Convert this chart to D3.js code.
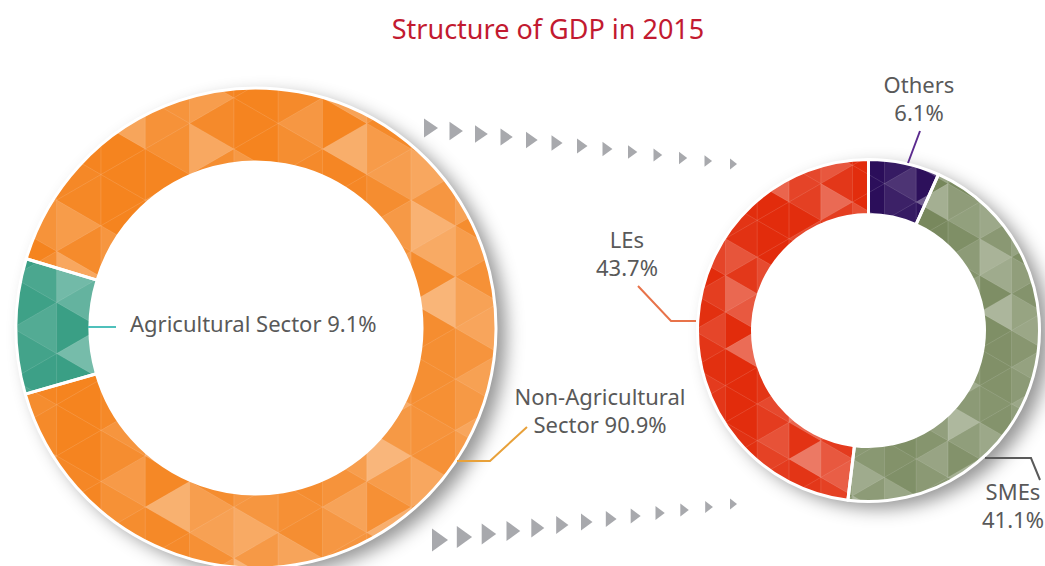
<!DOCTYPE html>
<html lang="en">
<head>
    <meta charset="UTF-8">
    <title>Structure of GDP in 2015</title>
    <script src="https://cdn.jsdelivr.net/npm/d3@7"></script>
    <style>
        html, body { margin: 0; padding: 0; background: #fff; }
        svg { display: block; font-family: "Noto Sans", "Open Sans", sans-serif; }
    </style>
</head>
<body>
    <svg id="chart" width="1045" height="566"></svg>

    <script>
    "use strict";

    // data
    var chartTitle = "Structure of GDP in 2015";
    var sectorNames = ["Agricultural Sector", "Non-Agricultural Sector"];
    var sectorValues = [9.1, 90.9];
    var sectorColors = ["#3a9f85", "#f5841f"];
    var segmentNames = ["Others", "SMEs", "LEs"];
    var segmentValues = [6.1, 41.1, 43.7];
    var segmentColors = ["#2b0e5a", "#75865a", "#e22c0c"];

    // texture levels for the triangle mosaic (white overlay opacity)
    var shadeLevels = [0.0, 0.12, 0.05, 0.22, 0.0, 0.3, 0.08, 0.16, 0.0, 0.4, 0.1, 0.2, 0.03];

    var svg = d3.select("#chart");
    var defs = svg.append("defs");

    var shadow = defs.append("filter").attr("id", "shadow")
        .attr("x", "-20%").attr("y", "-20%").attr("width", "150%").attr("height", "150%");
    shadow.append("feDropShadow")
        .attr("dx", 10).attr("dy", 7).attr("stdDeviation", 9)
        .attr("flood-color", "#000").attr("flood-opacity", 0.42);

    svg.append("text")
        .attr("x", 548).attr("y", 39)
        .attr("text-anchor", "middle")
        .attr("font-size", 27)
        .attr("fill", "#c21a30")
        .text(chartTitle);

    var donuts = [
        { id: "sector", names: sectorNames, values: sectorValues, colors: sectorColors,
          cx: 256, cy: 328, r0: 166, r1: 240, start: 254, cell: 44.3 },
        { id: "segment", names: segmentNames, values: segmentValues, colors: segmentColors,
          cx: 868.5, cy: 330.5, r0: 116, r1: 171, start: 0, cell: 31.8 }
    ];

    var rad = Math.PI / 180;

    donuts.forEach(function (dn) {
        var g = svg.append("g").attr("transform", "translate(" + dn.cx + "," + dn.cy + ")");

        var pie = d3.pie().sort(null)
            .startAngle(dn.start * rad)
            .endAngle(dn.start * rad + 2 * Math.PI);
        var arcs = pie(dn.values);
        var arc = d3.arc().innerRadius(dn.r0).outerRadius(dn.r1);

        // shadow disc
        g.append("circle").attr("r", dn.r1).attr("fill", "#fff").attr("filter", "url(#shadow)");

        g.selectAll("path.slice").data(arcs).enter().append("path")
            .attr("class", "slice")
            .attr("d", arc)
            .attr("fill", function (d, i) { return dn.colors[i]; });

        // ring clip for mosaic
        defs.append("clipPath").attr("id", "ring-" + dn.id)
            .append("path")
            .attr("d", arc({ startAngle: 0, endAngle: 2 * Math.PI }));

        var w = dn.cell, s = 2 * w / Math.sqrt(3);
        var tris = [];
        var nc = Math.ceil(dn.r1 / w) + 1;
        for (var c = -nc; c < nc; c++) {
            var xl = (c + 0.5) * w, xr = xl + w;
            var oc = (((c % 2) + 2) % 2) * s / 2;
            var oc2 = oc === 0 ? s / 2 : 0;
            for (var r = -nc - 2; r < nc + 2; r++) {
                var ya = oc + r * s, yb = oc2 + r * s;
                tris.push({ c: c, r: r, k: 0, pts: [[xl, ya], [xl, ya + s], [xr, ya + s / 2]] });
                tris.push({ c: c, r: r, k: 1, pts: [[xr, yb], [xr, yb + s], [xl, yb + s / 2]] });
            }
        }

        var mosaic = g.append("g").attr("clip-path", "url(#ring-" + dn.id + ")");
        mosaic.selectAll("path").data(tris).enter().append("path")
            .attr("d", function (t) { return "M" + t.pts.join("L") + "Z"; })
            .attr("fill", "#fff")
            .attr("fill-opacity", function (t) {
                var idx = ((t.c * 7 + t.r * 4 + t.k * 5) % shadeLevels.length + shadeLevels.length) % shadeLevels.length;
                var mx = (t.pts[0][0] + t.pts[1][0] + t.pts[2][0]) / 3;
                var my = (t.pts[0][1] + t.pts[1][1] + t.pts[2][1]) / 3;
                var bias = Math.max(-1, Math.min(1, (mx * 0.7 + my * 0.5) / dn.r1));
                return Math.max(0, Math.min(0.5, shadeLevels[idx] * 0.8 + 0.03 + 0.1 * bias));
            })
            .attr("stroke", "#fff")
            .attr("stroke-opacity", 0.1)
            .attr("stroke-width", 0.7);

        g.selectAll("path.sep").data(arcs).enter().append("path")
            .attr("class", "sep")
            .attr("d", arc)
            .attr("fill", "none")
            .attr("stroke", "#fff")
            .attr("stroke-width", 3)
            .attr("stroke-linejoin", "round");
    });

    // arrows between the donuts
    var arrowRows = [
        { n: 13, x: [424, 730], y: [128, 164], h: [19, 11], w: [14, 7] },
        { n: 13, x: [432, 730], y: [540, 504], h: [23, 11], w: [16, 7] }
    ];
    arrowRows.forEach(function (row) {
        var idx = d3.range(row.n);
        var sx = d3.scaleLinear().domain([0, row.n - 1]).range(row.x);
        var sy = d3.scaleLinear().domain([0, row.n - 1]).range(row.y);
        var sh = d3.scaleLinear().domain([0, row.n - 1]).range(row.h);
        var sw = d3.scaleLinear().domain([0, row.n - 1]).range(row.w);
        svg.append("g").selectAll("path").data(idx).enter().append("path")
            .attr("d", function (i) {
                var x = sx(i), y = sy(i), h = sh(i), ww = sw(i);
                return "M" + x + "," + (y - h / 2) + "L" + (x + ww) + "," + y + "L" + x + "," + (y + h / 2) + "Z";
            })
            .attr("fill", "#a8a9ad");
    });

    // labels
    var fmt = function (v) { return v.toFixed(1) + "%"; };
    var labels = [
        { name: sectorNames[0], value: sectorValues[0], mode: "inline", x: 130, y: 332, anchor: "start",
          line: [[88, 327], [116, 327]], color: "#4fc0bb" },
        { name: sectorNames[1], value: sectorValues[1], mode: "wrap", x: 600, y: 405, anchor: "middle",
          line: [[457, 461], [490, 461], [527, 427]], color: "#e8a13a" },
        { name: segmentNames[0], value: segmentValues[0], mode: "stack", x: 919, y: 93, anchor: "middle",
          line: [[908, 163], [920, 131]], color: "#5b2a8e" },
        { name: segmentNames[2], value: segmentValues[2], mode: "stack", x: 627, y: 248, anchor: "middle",
          line: [[638, 286], [671, 321], [696, 321]], color: "#e8734a" },
        { name: segmentNames[1], value: segmentValues[1], mode: "stack", x: 1013, y: 500, anchor: "middle",
          line: [[985, 458], [1031, 458], [1040, 480]], color: "#5a5a5a" }
    ];

    labels.forEach(function (lb) {
        svg.append("path")
            .attr("d", d3.line()(lb.line))
            .attr("fill", "none")
            .attr("stroke", lb.color)
            .attr("stroke-width", 2);

        var lines;
        if (lb.mode === "inline") {
            lines = [lb.name + " " + fmt(lb.value)];
        } else if (lb.mode === "wrap") {
            var cut = lb.name.indexOf(" ");
            lines = [lb.name.slice(0, cut), lb.name.slice(cut + 1) + " " + fmt(lb.value)];
        } else {
            lines = [lb.name, fmt(lb.value)];
        }

        var t = svg.append("text")
            .attr("text-anchor", lb.anchor)
            .attr("font-size", 22)
            .attr("fill", "#595959");
        lines.forEach(function (txt, i) {
            t.append("tspan").attr("x", lb.x).attr("y", lb.y + i * 28).text(txt);
        });
    });
    </script>
</body>
</html>
